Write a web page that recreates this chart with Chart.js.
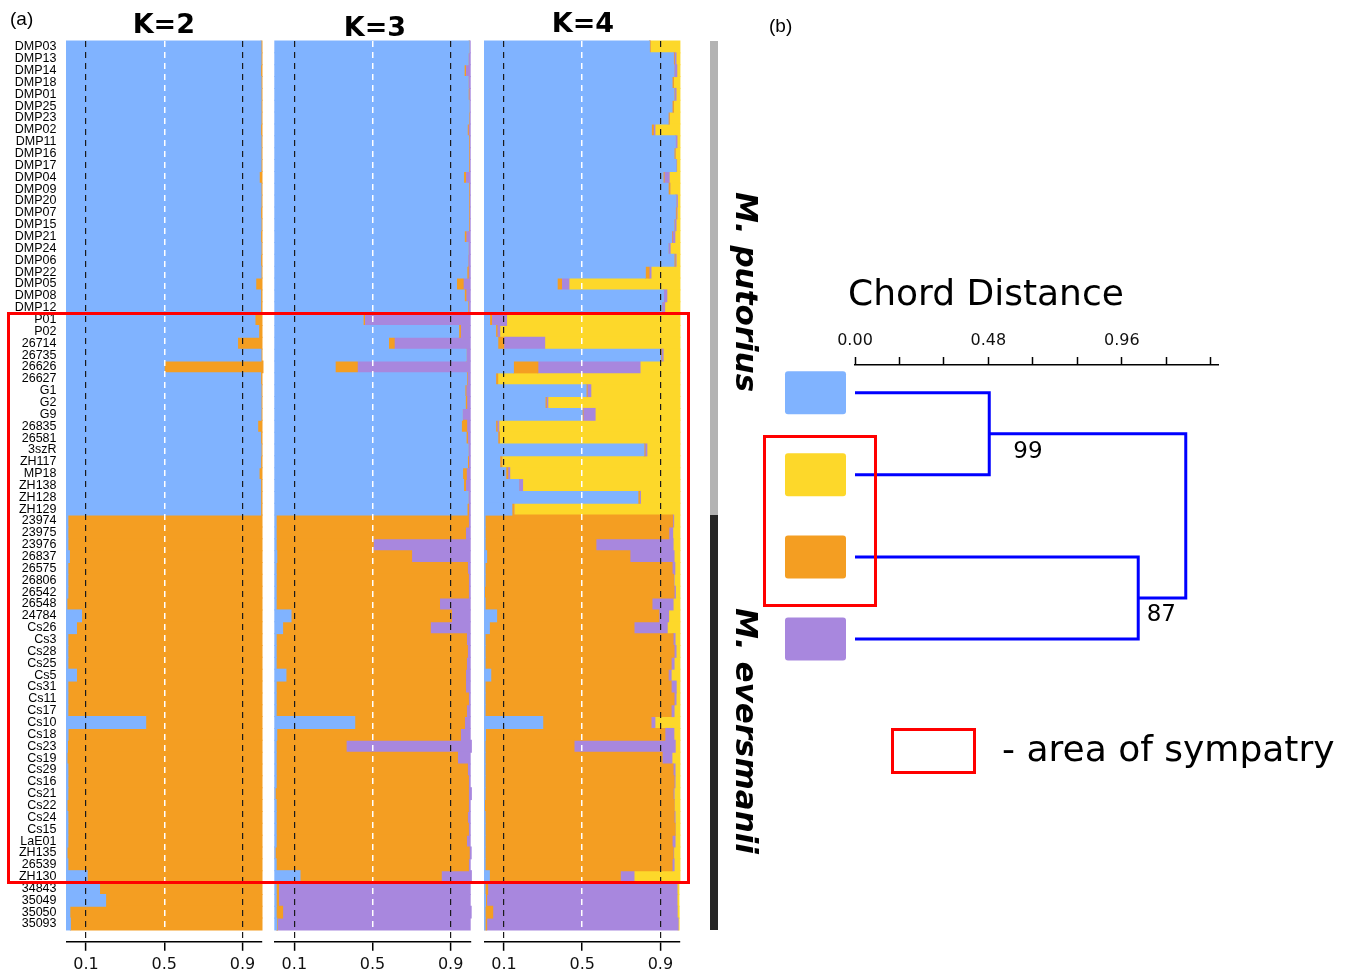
<!DOCTYPE html>
<html>
<head>
<meta charset="utf-8">
<title>Admixture K=2..4 and chord distance tree</title>
<script src="https://cdn.jsdelivr.net/npm/chart.js@4.4.1/dist/chart.umd.min.js"></script>
<style>
  html, body { margin: 0; padding: 0; background: #fff; }
  body { position: relative; width: 1351px; height: 974px; overflow: hidden; }
  canvas { position: absolute; top: 0; }
  .label { position: absolute; white-space: nowrap; color: #000; }
  .frame { position: absolute; box-sizing: border-box; border: 3px solid #f00; pointer-events: none; }
  .strip { position: absolute; }
</style>
</head>
<body>
<canvas id="k2" width="272" height="974" style="left:0px"></canvas>
<canvas id="k3" width="210" height="974" style="left:270px"></canvas>
<canvas id="k4" width="210" height="974" style="left:480px"></canvas>
<canvas id="tree" width="591" height="974" style="left:760px"></canvas>

<div class="strip" style="left:710px;top:41px;width:8px;height:474px;background:#b3b3b3"></div>
<div class="strip" style="left:710px;top:515px;width:8px;height:415px;background:#262626"></div>
<div class="frame" style="left:7px;top:312px;width:683px;height:572px"></div>
<div class="frame" style="left:763px;top:435px;width:114px;height:172px"></div>
<div class="frame" style="left:891px;top:728px;width:85px;height:46px"></div>

<script>
// ---- data ----
const samples = ['DMP03','DMP13','DMP14','DMP18','DMP01','DMP25','DMP23','DMP02','DMP11','DMP16',
  'DMP17','DMP04','DMP09','DMP20','DMP07','DMP15','DMP21','DMP24','DMP06','DMP22',
  'DMP05','DMP08','DMP12','P01','P02','26714','26735','26626','26627','G1',
  'G2','G9','26835','26581','3szR','ZH117','MP18','ZH138','ZH128','ZH129',
  '23974','23975','23976','26837','26575','26806','26542','26548','24784','Cs26',
  'Cs3','Cs28','Cs25','Cs5','Cs31','Cs11','Cs17','Cs10','Cs18','Cs23',
  'Cs19','Cs29','Cs16','Cs21','Cs22','Cs24','Cs15','LaE01','ZH135','26539',
  'ZH130','34843','35049','35050','35093'];

const xTicks = [0.1, 0.5, 0.9];

// K=2
const k2Blue = [0.995,0.995,0.993,0.995,0.995,0.995,0.995,0.993,0.995,0.995,
  0.995,0.986,0.995,0.995,0.993,0.995,0.993,0.995,0.993,0.995,
  0.968,0.993,0.993,0.964,0.983,0.875,0.995,0.500,0.993,0.995,
  0.995,0.995,0.978,0.993,0.995,0.993,0.985,0.993,0.993,0.993,
  0.007,0.007,0.007,0.015,0.007,0.007,0.007,0.002,0.077,0.051,
  0.007,0.007,0.007,0.051,0.007,0.007,0.007,0.405,0.008,0.005,
  0.003,0.007,0.007,0.007,0.003,0.007,0.007,0.007,0.003,0.007,
  0.106,0.169,0.200,0.017,0.020];
const k2Orange = [0.005,0.005,0.007,0.005,0.005,0.005,0.005,0.007,0.005,0.005,
  0.005,0.014,0.005,0.005,0.007,0.005,0.007,0.005,0.007,0.005,
  0.032,0.007,0.007,0.036,0.017,0.125,0.005,0.505,0.007,0.005,
  0.005,0.005,0.022,0.007,0.005,0.007,0.015,0.007,0.007,0.007,
  0.993,0.993,0.993,0.985,0.993,0.993,0.993,0.998,0.923,0.949,
  0.993,0.993,0.993,0.949,0.993,0.993,0.993,0.595,0.992,0.995,
  0.997,0.993,0.993,0.993,0.997,0.993,0.993,0.993,0.997,0.993,
  0.894,0.831,0.800,0.983,0.980];

// K=3
const k3Blue = [0.995,0.990,0.969,0.990,0.990,0.995,0.993,0.985,0.992,0.992,
  0.992,0.966,0.992,0.992,0.992,0.992,0.970,0.990,0.988,0.983,
  0.930,0.970,0.988,0.452,0.941,0.582,0.980,0.309,0.982,0.973,
  0.975,0.960,0.955,0.979,0.990,0.986,0.961,0.966,0.990,0.984,
  0.007,0.007,0.007,0.010,0.007,0.007,0.007,0.007,0.083,0.040,
  0.007,0.007,0.007,0.057,0.007,0.007,0.007,0.409,0.010,0.007,
  0.007,0.007,0.007,0.002,0.007,0.007,0.007,0.007,0.002,0.007,
  0.129,0.007,0.007,0.007,0.010];
const k3Orange = [0,0,0.007,0,0.003,0,0.002,0.005,0.003,0.003,
  0.003,0.010,0.003,0.003,0.003,0.003,0.008,0,0,0.007,
  0.034,0.008,0.003,0.007,0.009,0.029,0,0.113,0.003,0.005,
  0.007,0,0.027,0.007,0,0.005,0.019,0.010,0,0.007,
  0.984,0.969,0.497,0.690,0.979,0.984,0.984,0.836,0.821,0.756,
  0.974,0.979,0.974,0.919,0.969,0.984,0.974,0.562,0.940,0.358,
  0.928,0.979,0.984,0.989,0.984,0.979,0.984,0.974,0.993,0.984,
  0.723,0.012,0.012,0.033,0.003];
const k3Purple = [0.005,0.010,0.024,0.010,0.007,0.005,0.005,0.010,0.005,0.005,
  0.005,0.024,0.005,0.005,0.005,0.005,0.022,0.010,0.012,0.010,
  0.036,0.022,0.009,0.541,0.050,0.389,0.020,0.578,0.015,0.022,
  0.018,0.040,0.018,0.014,0.010,0.009,0.020,0.024,0.010,0.009,
  0.009,0.024,0.496,0.300,0.014,0.009,0.009,0.157,0.096,0.204,
  0.019,0.014,0.019,0.024,0.024,0.009,0.019,0.029,0.050,0.641,
  0.065,0.014,0.009,0.015,0.009,0.014,0.009,0.019,0.010,0.009,
  0.154,0.981,0.981,0.965,0.987];

// K=4
const k4Blue = [0.844,0.967,0.970,0.960,0.970,0.960,0.940,0.854,0.977,0.970,
  0.980,0.914,0.940,0.980,0.977,0.970,0.957,0.940,0.970,0.823,
  0.372,0.916,0.907,0.026,0.057,0.068,0.902,0.148,0.057,0.520,
  0.310,0.500,0.057,0.068,0.816,0.078,0.109,0.175,0.785,0.140,
  0.003,0.003,0.003,0.011,0.003,0.003,0,0.003,0.062,0.025,
  0.003,0.003,0.003,0.032,0.003,0.003,0.003,0.298,0.005,0.003,
  0.003,0.003,0.003,0.003,0,0.003,0.003,0.003,0.003,0.003,
  0.025,0.003,0.005,0.003,0.003];
const k4Orange = [0.003,0.004,0,0.007,0.003,0.007,0.005,0.010,0,0.005,
  0,0.005,0.008,0,0.004,0.002,0.003,0,0.005,0.019,
  0.022,0,0,0.010,0.007,0.030,0.003,0.125,0.010,0.005,
  0.006,0.004,0.007,0.008,0.005,0.010,0.010,0,0.008,0.010,
  0.960,0.940,0.567,0.733,0.957,0.964,0.970,0.854,0.830,0.740,
  0.962,0.967,0.952,0.908,0.952,0.967,0.952,0.554,0.918,0.455,
  0.906,0.962,0.967,0.962,0.970,0.967,0.972,0.957,0.962,0.957,
  0.670,0.013,0.006,0.039,0.008];
const k4Purple = [0,0.009,0.014,0,0.007,0,0,0.008,0.008,0,
  0.003,0.026,0,0.007,0.004,0.008,0.014,0.010,0.005,0.010,
  0.038,0.017,0.015,0.077,0.014,0.210,0.009,0.523,0,0.019,
  0.008,0.062,0.009,0,0.010,0,0.010,0.020,0.005,0,
  0.005,0.020,0.395,0.226,0.014,0.003,0.007,0.108,0.050,0.170,
  0.010,0.010,0.015,0.015,0.026,0.010,0.015,0.020,0.046,0.518,
  0.050,0.010,0.005,0.005,0,0.005,0,0.015,0.003,0.010,
  0.070,0.969,0.974,0.944,0.980];
const k4Yellow = [0.153,0.020,0.016,0.033,0.020,0.033,0.055,0.128,0.015,0.025,
  0.017,0.055,0.052,0.013,0.015,0.020,0.026,0.050,0.020,0.148,
  0.568,0.067,0.078,0.887,0.922,0.692,0.086,0.204,0.933,0.456,
  0.676,0.434,0.927,0.924,0.169,0.912,0.871,0.805,0.202,0.850,
  0.032,0.037,0.035,0.030,0.026,0.030,0.023,0.035,0.058,0.065,
  0.025,0.020,0.030,0.045,0.019,0.020,0.030,0.128,0.031,0.024,
  0.041,0.025,0.025,0.030,0.030,0.025,0.025,0.025,0.032,0.030,
  0.235,0.010,0.010,0.010,0.005];

// chord distance tree (b)
const chordTicks = [0, 0.16, 0.32, 0.48, 0.64, 0.80, 0.96, 1.12, 1.28];
const chordLabelled = [0, 0.48, 0.96];
const leafOrder = ['blue', 'yellow', 'orange', 'purple'];
const joinBlueYellow = 0.483;
const joinOrangePurple = 1.019;
const joinRoot = 1.19;
const support = [99, 87];

const COLORS = { blue: '#80b3ff', orange: '#f49e22', purple: '#a887de', yellow: '#fdd82a' };

// ---- panel (a): stacked membership bars ----
function structurePanel(canvasId, series, withNames, padLeft, padRight) {
    return new Chart(document.getElementById(canvasId), {
        type: 'bar',
        data: {
            // one empty slot at the end keeps the axis line clear of the last bar
            labels: samples.concat(['']),
            datasets: series.map(([data, color]) => ({
                data,
                backgroundColor: color,
                borderWidth: 0,
                barPercentage: 1,
                categoryPercentage: 1,
                inflateAmount: 0.5,
                clip: false
            }))
        },
        options: {
            indexAxis: 'y',
            responsive: false,
            animation: false,
            layout: { padding: { left: padLeft, right: padRight, top: 41, bottom: 0 } },
            plugins: { legend: { display: false }, tooltip: { enabled: false } },
            scales: {
                x: {
                    type: 'linear',
                    min: 0,
                    max: 1,
                    stacked: true,
                    afterBuildTicks: s => { s.ticks = xTicks.map(v => ({ value: v })); },
                    afterFit: s => { s.height = 32.2; },
                    grid: {
                        z: 1,
                        color: c => (c.tick && c.tick.value === 0.5) ? '#ffffff' : '#1a1a1a',
                        lineWidth: c => (c.tick && c.tick.value === 0.5) ? 1.5 : 1.2,
                        tickColor: '#000',
                        tickLength: 9,
                        tickWidth: 1.5,
                        tickBorderDash: []
                    },
                    // border drawn on the same layer as the grid so its position is known
                    border: { display: true, color: '#000', width: 1.5, z: 1, dash: [6, 5] },
                    ticks: {
                        autoSkip: false,
                        maxRotation: 0,
                        padding: 4,
                        color: '#111',
                        font: { family: 'DejaVu Sans', size: 16 },
                        callback: v => String(v)
                    }
                },
                y: {
                    display: withNames,
                    stacked: true,
                    grid: { display: false, drawTicks: false },
                    border: { display: false },
                    afterFit: s => { if (withNames) s.width = 66.5; },
                    ticks: {
                        autoSkip: false,
                        padding: 10,
                        color: '#000',
                        font: { family: 'Liberation Sans', size: 12.5 }
                    }
                }
            }
        }
    });
}

structurePanel('k2', [[k2Blue, COLORS.blue], [k2Orange, COLORS.orange]], true, 0, 10);
structurePanel('k3', [[k3Blue, COLORS.blue], [k3Orange, COLORS.orange], [k3Purple, COLORS.purple]], false, 4.8, 9.8);
structurePanel('k4', [[k4Blue, COLORS.blue], [k4Orange, COLORS.orange], [k4Purple, COLORS.purple], [k4Yellow, COLORS.yellow]], false, 4.5, 10.1);

// ---- panel (b): tree ----
const treeBranches = [
    [{ x: 0, y: 0 }, { x: joinBlueYellow, y: 0 }, { x: joinBlueYellow, y: 1 }, { x: 0, y: 1 }],
    [{ x: 0, y: 2 }, { x: joinOrangePurple, y: 2 }, { x: joinOrangePurple, y: 3 }, { x: 0, y: 3 }],
    [{ x: joinBlueYellow, y: 0.5 }, { x: joinRoot, y: 0.5 }, { x: joinRoot, y: 2.5 }, { x: joinOrangePurple, y: 2.5 }]
];

const leafBoxes = {
    id: 'leafBoxes',
    afterDatasetsDraw(chart) {
        const { ctx, scales: { x, y } } = chart;
        const x0 = x.getPixelForValue(0);
        ctx.save();
        leafOrder.forEach((name, i) => {
            const cy = y.getPixelForValue(i);
            ctx.fillStyle = COLORS[name];
            ctx.beginPath();
            ctx.roundRect(x0 - 70, cy - 21.5, 61, 43, 3);
            ctx.fill();
        });
        // bootstrap support beside the inner nodes
        ctx.fillStyle = '#000';
        ctx.font = '23px "DejaVu Sans"';
        ctx.textBaseline = 'alphabetic';
        ctx.fillText(String(support[0]), x.getPixelForValue(joinBlueYellow) + 24, y.getPixelForValue(0.5) + 24);
        ctx.fillText(String(support[1]), x.getPixelForValue(joinOrangePurple) + 8.5, y.getPixelForValue(2.5) + 23);
        ctx.restore();
    }
};

new Chart(document.getElementById('tree'), {
    type: 'scatter',
    data: {
        datasets: treeBranches.map(pts => ({
            data: pts,
            showLine: true,
            borderColor: '#0000ff',
            borderWidth: 3,
            borderJoinStyle: 'miter',
            pointRadius: 0,
            clip: false
        }))
    },
    options: {
        responsive: false,
        animation: false,
        layout: { padding: { left: 95, right: 133, top: 320, bottom: 254.2 } },
        plugins: { legend: { display: false }, tooltip: { enabled: false } },
        scales: {
            x: {
                type: 'linear',
                position: 'top',
                min: 0,
                max: 1.306,
                afterBuildTicks: s => { s.ticks = chordTicks.map(v => ({ value: v })); },
                afterFit: s => { s.height = 45; },
                grid: { drawOnChartArea: false, tickLength: 8, tickColor: '#000', tickWidth: 1.5 },
                border: { color: '#000', width: 1.5 },
                ticks: {
                    autoSkip: false,
                    maxRotation: 0,
                    padding: 7,
                    color: '#111',
                    font: { family: 'DejaVu Sans', size: 16 },
                    callback: v => chordLabelled.includes(v) ? v.toFixed(2) : ''
                }
            },
            y: { type: 'linear', display: false, reverse: true, min: -0.3374, max: 3.984 }
        }
    },
    plugins: [leafBoxes]
});

// ---- text ----
function addLabel(text, o) {
    const el = document.createElement('div');
    el.className = 'label';
    el.textContent = text;
    el.style.font = `${o.style || 'normal'} ${o.weight || 'normal'} ${o.size}px ${o.family || '"DejaVu Sans"'}`;
    el.style.lineHeight = '1';
    el.style.left = o.left + 'px';
    el.style.top = (o.baseline - 0.846 * o.size) + 'px';
    if (o.center) el.style.transform = 'translateX(-50%)';
    document.body.appendChild(el);
    return el;
}

addLabel('(a)', { left: 10, baseline: 25, size: 19, family: '"Liberation Sans"' });
addLabel('(b)', { left: 769, baseline: 32, size: 19, family: '"Liberation Sans"' });
addLabel('K=2', { left: 163.8, baseline: 33.3, size: 27, weight: 'bold', center: true });
addLabel('K=3', { left: 375, baseline: 36, size: 27, weight: 'bold', center: true });
addLabel('K=4', { left: 583, baseline: 31.7, size: 27, weight: 'bold', center: true });
addLabel('Chord Distance', { left: 848, baseline: 305.7, size: 36 });
addLabel('- area of sympatry', { left: 1002, baseline: 761, size: 36 });

// species names, rotated to read downwards
[['M. putorius', 192], ['M. eversmanii', 608]].forEach(([name, top]) => {
    const el = document.createElement('div');
    el.className = 'label';
    el.textContent = name;
    el.style.font = 'italic bold 31px "DejaVu Sans"';
    el.style.lineHeight = '31px';
    el.style.left = '761.7px';
    el.style.top = top + 'px';
    el.style.transformOrigin = '0 0';
    el.style.transform = 'rotate(90deg)';
    document.body.appendChild(el);
});
</script>
</body>
</html>
